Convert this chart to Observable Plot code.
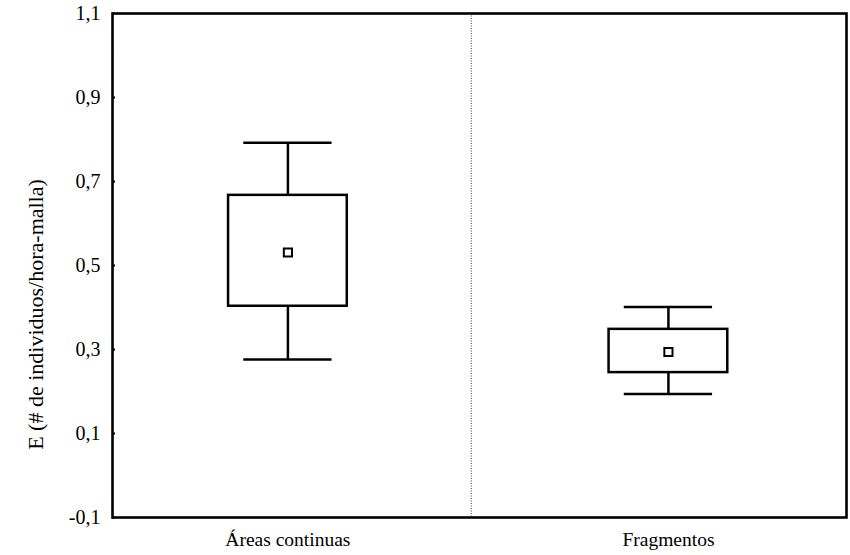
<!DOCTYPE html>
<html>
<head>
<meta charset="utf-8">
<script src="https://cdn.jsdelivr.net/npm/d3@7"></script>
<script src="https://cdn.jsdelivr.net/npm/@observablehq/plot@0.6"></script>
<style>
  html, body { margin: 0; padding: 0; background: #fff; }
  #chart svg { display: block; }
</style>
</head>
<body>
<div id="chart"></div>
<script>
const categories = ["Áreas continuas", "Fragmentos"];
const positions = [1, 2];
const means = [0.531, 0.294];
const boxLow = [0.403, 0.245];
const boxHigh = [0.667, 0.348];
const whiskerLow = [0.276, 0.194];
const whiskerHigh = [0.792, 0.401];
const yTicks = [-0.1, 0.1, 0.3, 0.5, 0.7, 0.9, 1.1];
const yMinorTicks = [0.0, 0.2, 0.4, 0.6, 0.8, 1.0];
const dividerX = [1.482];
const yTitle = ["E (# de individuos/hora-malla)"];

const rows = categories.map((c, i) => ({
  cat: c, pos: positions[i], mean: means[i],
  lo: boxLow[i], hi: boxHigh[i], wlo: whiskerLow[i], whi: whiskerHigh[i]
}));

const boxHalf = 0.156;
const capHalf = 0.116;
const fmt = d => d.toFixed(1).replace(".", ",");

const chart = Plot.plot({
  width: 850,
  height: 555,
  marginLeft: 112,
  marginTop: 13,
  marginRight: 4,
  marginBottom: 38,
  style: { fontFamily: "'Liberation Serif', 'Times New Roman', serif", fontSize: "20px", color: "#000", background: "#fff" },
  x: { type: "linear", domain: [0.539, 2.468] },
  y: { domain: [-0.1, 1.1] },
  marks: [
    Plot.ruleX(dividerX, { stroke: "#444", strokeWidth: 1, strokeDasharray: "1,1.5" }),
    Plot.ruleX(rows, { x: "pos", y1: "wlo", y2: "lo", stroke: "#000", strokeWidth: 2.5 }),
    Plot.ruleX(rows, { x: "pos", y1: "hi", y2: "whi", stroke: "#000", strokeWidth: 2.5 }),
    Plot.ruleY(rows, { y: "wlo", x1: d => d.pos - capHalf, x2: d => d.pos + capHalf, stroke: "#000", strokeWidth: 2.5 }),
    Plot.ruleY(rows, { y: "whi", x1: d => d.pos - capHalf, x2: d => d.pos + capHalf, stroke: "#000", strokeWidth: 2.5 }),
    Plot.rect(rows, { x1: d => d.pos - boxHalf, x2: d => d.pos + boxHalf, y1: "lo", y2: "hi", fill: "none", stroke: "#000", strokeWidth: 2.5 }),
    Plot.dot(rows, { x: "pos", y: "mean", symbol: "square", r: 4.6, fill: "#fff", stroke: "#000", strokeWidth: 2 }),
    Plot.axisY({ ticks: yTicks, tickFormat: fmt, tickSize: 0, tickPadding: 12, fontSize: 20, label: null }),
    Plot.axisY({ ticks: yTicks, tickSize: -3, text: null, label: null, strokeWidth: 2 }),
    Plot.axisY({ ticks: yMinorTicks, tickSize: -2, text: null, label: null, stroke: "#999", strokeWidth: 1 }),
    Plot.text(yTitle, { text: d => d, frameAnchor: "left", textAnchor: "middle", rotate: -90, dx: -77, dy: 49, fontSize: 22, fill: "#000" }),
    Plot.axisX({ ticks: positions, tickFormat: d => categories[positions.indexOf(d)], tickSize: 0, tickPadding: 15, fontSize: 19.5, label: null }),
    Plot.frame({ stroke: "#000", strokeWidth: 2.6 })
  ]
});
document.getElementById("chart").appendChild(chart);
</script>
</body>
</html>
